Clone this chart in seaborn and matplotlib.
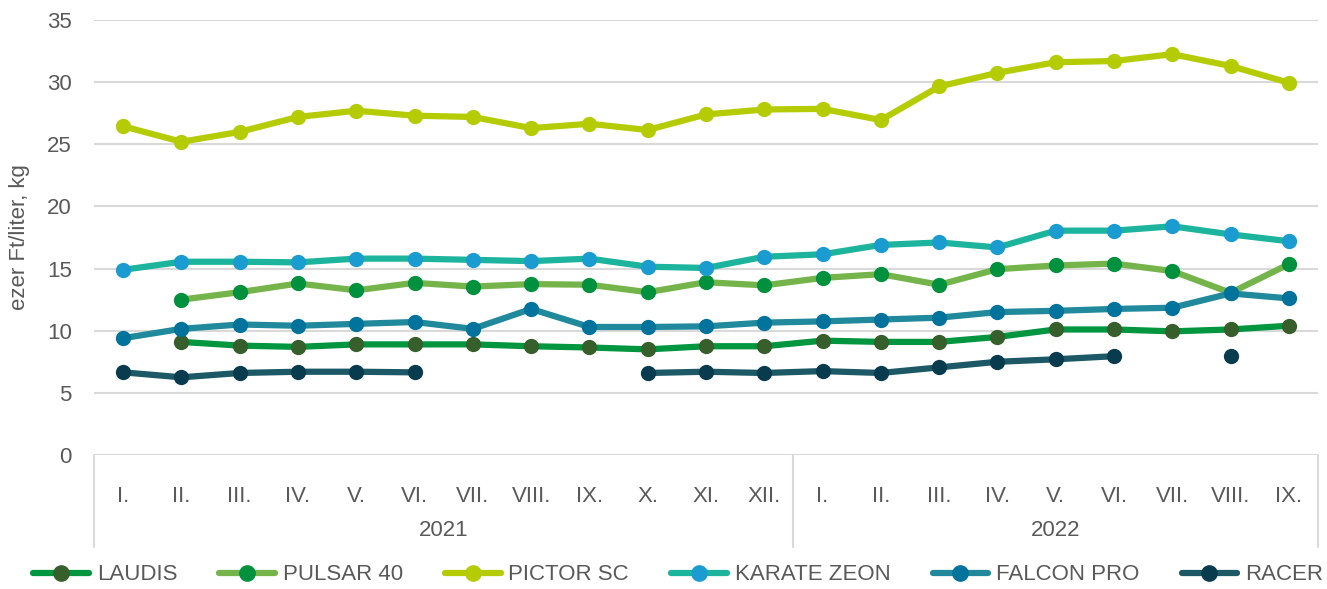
import numpy as np
import pandas as pd
import matplotlib
matplotlib.use('Agg')
import matplotlib.pyplot as plt
import matplotlib.transforms as mtrans
from matplotlib.lines import Line2D
import seaborn as sns

nan = np.nan
months = ['I.', 'II.', 'III.', 'IV.', 'V.', 'VI.', 'VII.', 'VIII.', 'IX.', 'X.', 'XI.', 'XII.',
          'I.', 'II.', 'III.', 'IV.', 'V.', 'VI.', 'VII.', 'VIII.', 'IX.']
years = ['2021', '2022']
year_len = [12, 9]

laudis = [nan, 9.1, 8.8, 8.7, 8.9, 8.9, 8.9, 8.75, 8.65, 8.5, 8.75, 8.75,
          9.2, 9.1, 9.1, 9.5, 10.1, 10.1, 9.95, 10.1, 10.4]
pulsar = [nan, 12.5, 13.1, 13.8, 13.25, 13.85, 13.55, 13.75, 13.7, 13.1, 13.9, 13.65,
          14.25, 14.55, 13.7, 14.95, 15.25, 15.4, 14.8, 13.05, 15.35]
pictor = [26.45, 25.2, 26.0, 27.2, 27.7, 27.3, 27.2, 26.3, 26.65, 26.15, 27.4, 27.8,
          27.85, 26.95, 29.65, 30.75, 31.6, 31.7, 32.25, 31.3, 29.95]
karate = [14.9, 15.55, 15.55, 15.5, 15.8, 15.8, 15.7, 15.6, 15.8, 15.15, 15.05, 15.95,
          16.15, 16.9, 17.1, 16.7, 18.05, 18.05, 18.4, 17.75, 17.2]
falcon = [9.4, 10.15, 10.5, 10.4, 10.55, 10.7, 10.15, 11.75, 10.3, 10.3, 10.35, 10.65,
          10.75, 10.9, 11.05, 11.5, 11.6, 11.75, 11.85, 13.0, 12.6]
racer = [6.65, 6.25, 6.6, 6.7, 6.7, 6.65, nan, nan, nan, 6.6, 6.7, 6.6,
         6.75, 6.6, 7.05, 7.5, 7.7, 7.95, nan, 7.95, nan]

names = ['LAUDIS', 'PULSAR 40', 'PICTOR SC', 'KARATE ZEON', 'FALCON PRO', 'RACER']
values = [laudis, pulsar, pictor, karate, falcon, racer]
# (line colour, marker colour)
colors = [('#00953F', '#365F2B'), ('#74B44A', '#00913F'), ('#B5CC05', '#B5CC05'),
          ('#1CB49C', '#1A9CD1'), ('#20899B', '#00739C'), ('#1C5866', '#083B4E')]

sns.set_theme(style='white')
plt.rcParams['font.family'] = ['Liberation Sans', 'DejaVu Sans']
grey = '#595959'

fig = plt.figure(figsize=(13.27, 5.89), dpi=100)
ax = fig.add_axes([94/1327, 1-455/589, 1224/1327, 435/589])

x = np.arange(len(months))
for name, vals, (lc, mc) in zip(names, values, colors):
    df = pd.DataFrame({'x': x, 'y': vals})
    # break the line where data is missing
    df['seg'] = df['y'].isna().cumsum()
    df = df.dropna()
    for _, part in df.groupby('seg'):
        sns.lineplot(data=part, x='x', y='y', ax=ax, color=lc, lw=4.5,
                     marker='o', markersize=11, markerfacecolor=mc,
                     markeredgecolor=mc, markeredgewidth=0, legend=False)

ax.set_ylim(0, 35)
ax.set_yticks(np.arange(0, 36, 5))
ax.set_xlim(-0.5, len(months) - 0.5)
ax.set_xticks(x)
ax.set_xticklabels(months)
ax.grid(axis='y', color='#D9D9D9', lw=1.5)
ax.grid(axis='x', visible=False)
for s in ax.spines.values():
    s.set_visible(False)
ax.tick_params(axis='both', length=0, labelsize=16, labelcolor=grey)
ax.tick_params(axis='x', pad=22)
ax.tick_params(axis='y', pad=16)
ax.set_xlabel('')
ax.set_ylabel('ezer Ft/liter, kg', fontsize=16, color=grey, labelpad=12)

# year groups under the month labels
trans = mtrans.blended_transform_factory(ax.transData, ax.transAxes)
bounds = np.concatenate([[0], np.cumsum(year_len)]) - 0.5
for b in bounds:
    ax.plot([b, b], [0, -0.212], transform=trans, color='#D9D9D9', lw=1.5, clip_on=False)
for yr, a, b in zip(years, bounds[:-1], bounds[1:]):
    ax.text((a + b) / 2, -0.173, yr, transform=trans, ha='center', va='center',
            fontsize=16, color=grey)

handles = [Line2D([0], [0], color=lc, lw=4.5, marker='o', markersize=11,
                  markerfacecolor=mc, markeredgecolor=mc) for lc, mc in colors]
fig.legend(handles, names, loc='center', bbox_to_anchor=(0.511, 1-575/589), ncol=6,
           frameon=False, fontsize=16, labelcolor=grey, handlelength=2.5,
           handletextpad=0.35, columnspacing=1.9)

fig.savefig('out.png', dpi=100)
